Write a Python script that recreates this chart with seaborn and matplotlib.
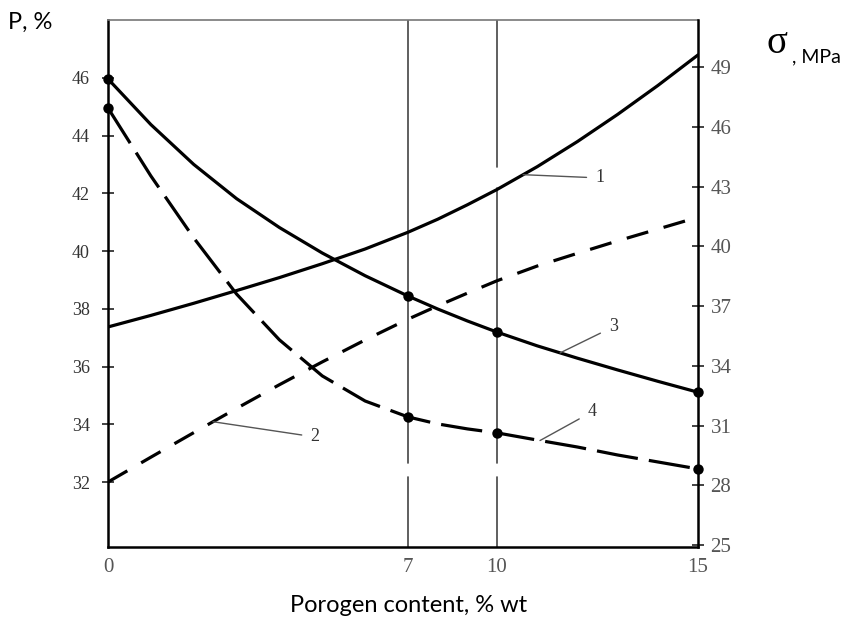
import numpy as np
import pandas as pd
import matplotlib
matplotlib.use("Agg")
import matplotlib.pyplot as plt
import seaborn as sns

# ---------------- data ----------------
porogen = [0, 1, 2, 3, 4, 5, 6, 7, 8, 9, 10, 11, 12, 13, 14, 15]
p_curve1 = [37.37, 37.77, 38.19, 38.63, 39.08, 39.56, 40.07, 40.65,
            41.10, 41.60, 42.13, 42.92, 43.79, 44.73, 45.73, 46.79]
p_curve2 = [32.00, 32.86, 33.71, 34.55, 35.37, 36.16, 36.92, 37.64,
            38.10, 38.54, 38.97, 39.48, 39.92, 40.35, 40.76, 41.17]
sigma_curve3 = [48.40, 46.11, 44.11, 42.39, 40.94, 39.66, 38.52, 37.50,
                36.85, 36.25, 35.69, 35.00, 34.38, 33.79, 33.22, 32.67]
sigma_curve4 = [46.94, 43.53, 40.42, 37.60, 35.30, 33.49, 32.23, 31.43,
                31.08, 30.83, 30.63, 30.27, 29.92, 29.52, 29.17, 28.82]
marker_x = [0, 7, 10, 15]
x_ticks = [0, 7, 10, 15]
p_ticks = [32, 34, 36, 38, 40, 42, 44, 46]
sigma_ticks = [25, 28, 31, 34, 37, 40, 43, 46, 49]
curve_labels = ["1", "2", "3", "4"]

df = pd.DataFrame({"porogen": porogen, "p1": p_curve1, "p2": p_curve2,
                   "s3": sigma_curve3, "s4": sigma_curve4})

# ---------------- style ----------------
sns.set_theme(style="white")
plt.rcParams['font.family'] = ['Liberation Serif', 'DejaVu Sans']

fig = plt.figure(figsize=(8.58, 6.18), dpi=100)
ax = fig.add_axes([108 / 858, 1 - 547 / 618, 590 / 858, 527 / 618])

# non-uniform x axis of the original drawing (piecewise-linear scale)
XK = np.array([0.0, 7.0, 10.0, 15.0])
PK = np.array([0.0, 300.0, 389.0, 590.0])


def _pw(v, xs, ys):
    v = np.asarray(v, dtype=float)
    out = np.interp(v, xs, ys)
    lo = ys[0] + (v - xs[0]) * (ys[1] - ys[0]) / (xs[1] - xs[0])
    hi = ys[-1] + (v - xs[-1]) * (ys[-1] - ys[-2]) / (xs[-1] - xs[-2])
    out = np.where(v < xs[0], lo, out)
    out = np.where(v > xs[-1], hi, out)
    return out


ax.set_xscale('function', functions=(lambda v: _pw(v, XK, PK),
                                     lambda v: _pw(v, PK, XK)))
ax2 = ax.twinx()

idx = [porogen.index(v) for v in marker_x]
sns.lineplot(data=df, x="porogen", y="p1", ax=ax, color="black", lw=2.3)
sns.lineplot(data=df, x="porogen", y="p2", ax=ax, color="black", lw=2.3,
             linestyle=(0, (7, 5)))
sns.lineplot(data=df, x="porogen", y="s3", ax=ax2, color="black", lw=2.3,
             marker="o", markevery=idx, markersize=7.5, markeredgewidth=0,
             clip_on=False)
sns.lineplot(data=df, x="porogen", y="s4", ax=ax2, color="black", lw=2.3,
             linestyle=(0, (13, 3.5)), marker="o", markevery=idx,
             markersize=7.5, markeredgewidth=0, clip_on=False)

# vertical reference lines at 7 and 10 (with the small gaps of the original)
for xv in (7, 10):
    ax.axvline(xv, ymin=0, ymax=0.133, color="#444", lw=1.2, zorder=1)
ax.axvline(7, ymin=0.159, ymax=1, color="#444", lw=1.2, zorder=1)
ax.axvline(10, ymin=0.159, ymax=0.681, color="#444", lw=1.2, zorder=1)
ax.axvline(10, ymin=0.721, ymax=1, color="#444", lw=1.2, zorder=1)

ax.set_xlim(0, 15)
ax.set_ylim(29.75, 48.0)
ax2.set_ylim(24.9, 51.36)

ax.set_xticks(x_ticks)
ax.set_xticklabels([str(v) for v in x_ticks])
ax.set_yticks(p_ticks)
ax.set_yticklabels([str(v) for v in p_ticks])
ax2.set_yticks(sigma_ticks)
ax2.set_yticklabels([str(v) for v in sigma_ticks])

ax.tick_params(axis='x', length=0, pad=8, labelsize=15, labelcolor='#555')
ax.tick_params(axis='y', left=True, direction='inout', length=8, width=1.2,
               color='#222', pad=9, labelsize=13, labelcolor='#333')
ax2.tick_params(axis='y', right=True, direction='inout', length=8, width=1.2,
                color='#222', pad=5, labelsize=15, labelcolor='#555')

for a in (ax, ax2):
    a.set_xlabel("")
    a.set_ylabel("")
for s in ("left", "bottom"):
    ax.spines[s].set_color("black")
    ax.spines[s].set_linewidth(1.8)
ax.spines["top"].set_color("#777")
ax.spines["top"].set_linewidth(1.2)
ax.spines["right"].set_visible(False)
for s in ("left", "top", "bottom"):
    ax2.spines[s].set_visible(False)
ax2.spines["right"].set_color("black")
ax2.spines["right"].set_linewidth(1.8)

# curve labels with leader lines
arrow = dict(arrowstyle='-', color='#555', lw=1.0, shrinkA=4, shrinkB=0)
lab_kw = dict(fontsize=13, color='#333', ha='center', va='center')
series = {"1": (ax, p_curve1, 10.65, (12.56, 42.53)),
          "2": (ax, p_curve2, 2.45, (4.83, 33.56)),
          "3": (ax2, sigma_curve3, 11.57, (12.89, 35.95)),
          "4": (ax2, sigma_curve4, 11.07, (12.36, 31.68))}
for lab in curve_labels:
    a, vals, xa, pos = series[lab]
    a.annotate(lab, xy=(xa, np.interp(xa, porogen, vals)), xytext=pos,
               arrowprops=arrow, **lab_kw)

# axis titles
fig.text(8 / 858, 1 - 29 / 618, "P, %", fontsize=17, family=['Lato', 'DejaVu Sans'],
         va='baseline', ha='left', color='black')
fig.text(767 / 858, 1 - 53 / 618, "σ", fontsize=28, family=['Liberation Serif', 'DejaVu Sans'],
         va='baseline', ha='left', color='black')
fig.text(792 / 858, 1 - 62 / 618, ", MPa", fontsize=14, family=['Lato', 'DejaVu Sans'],
         va='baseline', ha='left', color='black')
fig.text(409 / 858, 1 - 612 / 618, "Porogen content, % wt", fontsize=17,
         family=['Lato', 'DejaVu Sans'], va='baseline', ha='center', color='black')

fig.savefig("out.png", dpi=100)
